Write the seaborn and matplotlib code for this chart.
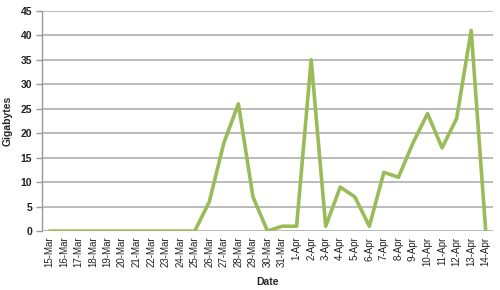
import matplotlib
matplotlib.use("Agg")
import matplotlib.pyplot as plt
import seaborn as sns
import pandas as pd

dates = ["15-Mar", "16-Mar", "17-Mar", "18-Mar", "19-Mar", "20-Mar", "21-Mar", "22-Mar",
         "23-Mar", "24-Mar", "25-Mar", "26-Mar", "27-Mar", "28-Mar", "29-Mar", "30-Mar",
         "31-Mar", "1-Apr", "2-Apr", "3-Apr", "4-Apr", "5-Apr", "6-Apr", "7-Apr", "8-Apr",
         "9-Apr", "10-Apr", "11-Apr", "12-Apr", "13-Apr", "14-Apr"]
gigabytes = [0, 0, 0, 0, 0, 0, 0, 0, 0, 0, 0, 6, 18, 26, 7, 0, 1, 1, 35, 1, 9, 7, 1,
             12, 11, 18, 24, 17, 23, 41, 0]
y_ticks = [0, 5, 10, 15, 20, 25, 30, 35, 40, 45]

df = pd.DataFrame({"Date": dates, "Gigabytes": gigabytes})
df["pos"] = range(len(dates))

sns.set_style("white")
plt.rcParams["font.family"] = ["Liberation Sans", "DejaVu Sans"]

fig = plt.figure(figsize=(5.0, 2.9), dpi=100)
ax = fig.add_axes([0.084, 0.203, 0.902, 0.76])

sns.lineplot(data=df, x="pos", y="Gigabytes", ax=ax, color="#9BBB59", linewidth=2.6)

ax.set_xlim(-0.5, len(dates) - 0.5)
ax.set_ylim(0, 45)
ax.set_yticks(y_ticks)
ax.set_yticklabels([str(t) for t in y_ticks], fontsize=7.5, fontweight="bold", color="#222222")
ax.set_xticks(range(len(dates)))
ax.set_xticklabels(dates, rotation=90, fontsize=7, color="#222222")
ax.yaxis.grid(True, color="#B5B5B5", linewidth=1.3)
ax.set_axisbelow(True)
for s in ["top", "right", "bottom"]:
    ax.spines[s].set_visible(False)
ax.spines["left"].set_color("#999999")
ax.spines["left"].set_linewidth(1.0)
ax.axhline(0, color="#999999", linewidth=1.0, zorder=0.5)
ax.tick_params(axis="y", length=4, color="#999999", width=1, pad=3, left=True)
ax.tick_params(axis="x", length=0, pad=4)
ax.set_ylabel("Gigabytes", fontsize=7.5, fontweight="bold", labelpad=6)
ax.set_xlabel("Date", fontsize=7.5, fontweight="bold", labelpad=7)

fig.savefig("out.png", dpi=100)
